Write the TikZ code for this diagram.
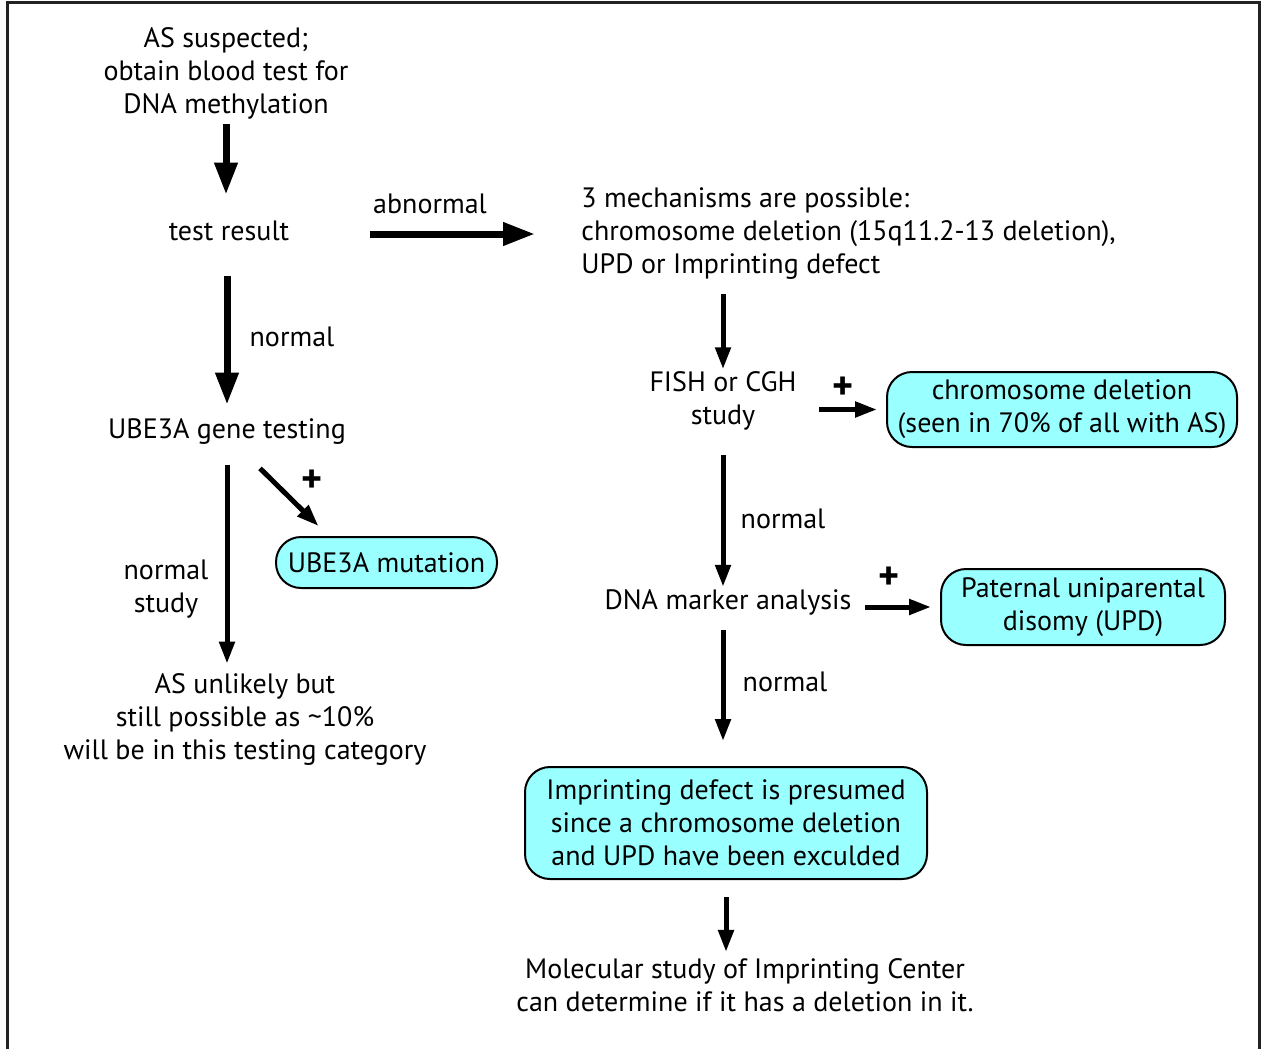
\documentclass[tikz,border=0pt]{standalone}
\usepackage{fontspec}
\setmainfont{PT Sans}
\usetikzlibrary{arrows.meta, positioning}
\definecolor{mCyan}{HTML}{99FFFF}
\definecolor{mFrame}{HTML}{222222}

\begin{document}
\begin{tikzpicture}[x=0.5pt, y=-0.5pt,
    txt/.style={align=center, inner sep=0pt, font=\fontsize{14}{16.5}\selectfont},
    resbox/.style={txt, draw, line width=1pt, fill=mCyan, rounded corners=12.5pt},
    plus/.style={inner sep=0pt, font=\fontsize{20}{20}\selectfont\bfseries},
    bigarrow/.style={line width=3.5pt, -{Triangle[length=16pt, width=11pt]}},
    thinarrow/.style={line width=2.5pt, -{Triangle[length=11pt, width=7.5pt]}}]
    \useasboundingbox (0,0) rectangle (1261,1048);
    \draw[mFrame, line width=1.5pt] (7,1060) -- (7,3) -- (1259,3) -- (1259,1060);

    % left column
    \node[txt] (susp) at (226,73) {AS suspected;\\obtain blood test for\\DNA methylation};
    \node[txt] (test) at (229,231) {test result};
    \node[txt] (gene) at (227,432) {UBE3A gene testing};
    \node[resbox, minimum width=110.5pt, minimum height=25.5pt] (mut) at (386.5,562.5) {UBE3A mutation};
    \node[txt] (unlikely) at (245,719) {AS unlikely but\\still possible as \textasciitilde10\%\\will be in this testing category};

    % right column
    \node[txt, align=left, anchor=west] (mech) at (581,234) {3 mechanisms are possible:\\chromosome deletion (15q11.2-13 deletion),\\UPD or Imprinting defect};
    \node[txt] (fish) at (723,401) {FISH or CGH\\study};
    \node[resbox, minimum width=175pt, minimum height=37.5pt] (chrdel) at (1062,409.5) {chromosome deletion\\(seen in 70\% of all with AS)};
    \node[txt] (dna) at (728,602) {DNA marker analysis};
    \node[resbox, minimum width=142pt, minimum height=38pt] (upd) at (1083,607) {Paternal uniparental\\disomy (UPD)};
    \node[resbox, minimum width=201pt, minimum height=56pt] (imp) at (726,823) {Imprinting defect is presumed\\since a chromosome deletion\\and UPD have been exculded};
    \node[txt] (mol) at (745,985) {Molecular study of Imprinting Center\\can determine if it has a deletion in it.};

    % labels
    \foreach \x/\y/\t [count=\i] in {430/204/abnormal, 292/337/normal, 166/589/{normal\\study}, 783/519/normal, 785/682/normal}
      \node[txt] (lbl\i) at (\x,\y) {\t};
    \foreach \x/\y [count=\i] in {312/481, 843/388, 889/578}
      \node[plus] (plus\i) at (\x,\y) {+};

    % connectors
    \draw[bigarrow, shorten <=2.5pt, shorten >=13pt] (susp.south) -- (susp.south |- test.north);
    \draw[bigarrow, shorten <=40pt, shorten >=23pt] (test.east |- mech.west) -- (mech.west);
    \draw[bigarrow, shorten <=17.5pt, shorten >=7pt] (test.south -| gene.north) -- (gene.north);
    \draw[thinarrow, shorten <=10pt, shorten >=4.5pt] (gene.south) -- (gene.south |- unlikely.north);
    \draw[thinarrow] ([xshift=16.5pt, yshift=-11.5pt]gene.south) -- ([xshift=-34pt, yshift=5pt]mut.north);
    \draw[thinarrow, shorten <=7pt, shorten >=1pt] (mech.south -| fish.north) -- (fish.north);
    \draw[thinarrow, shorten <=11pt, shorten >=4.5pt] (fish.east |- chrdel.west) -- (chrdel.west);
    \draw[thinarrow, shorten <=12pt, shorten >=1pt] (fish.south) -- (fish.south |- dna.north);
    \draw[thinarrow, shorten <=6.5pt, shorten >=4.5pt] (dna.east |- upd.west) -- (upd.west);
    \draw[thinarrow, shorten <=7.5pt, shorten >=12.5pt] (dna.south -| fish.south) -- (fish.south |- imp.north);
    \draw[thinarrow, shorten <=8.5pt, shorten >=3pt] (imp.south) -- (imp.south |- mol.north);
\end{tikzpicture}
\end{document}
